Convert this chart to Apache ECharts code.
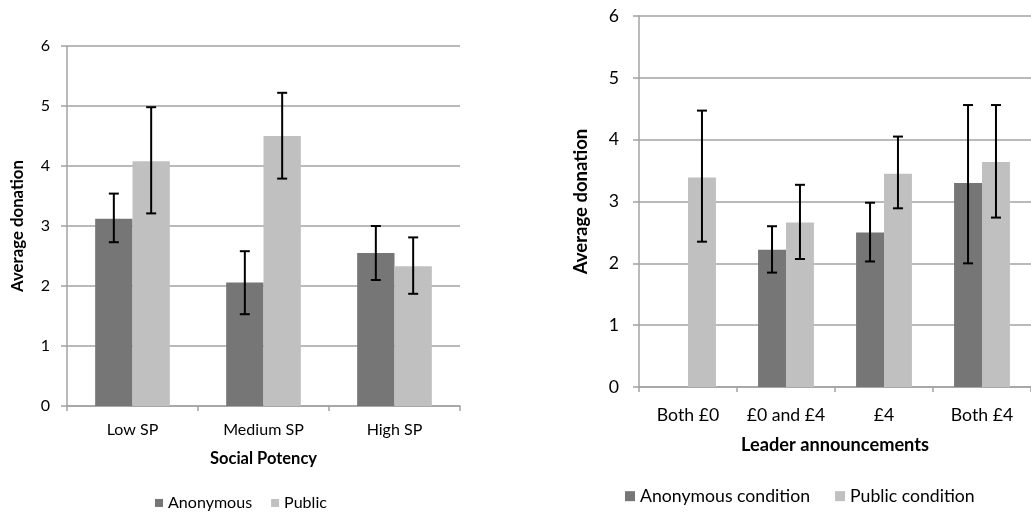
<!DOCTYPE html>
<html>
<head>
<meta charset="utf-8">
<script src="https://cdn.jsdelivr.net/npm/echarts@6/dist/echarts.min.js"></script>
<style>
html,body{margin:0;padding:0;background:#fff;}
#chart{width:1031px;height:514px;}
</style>
</head>
<body>
<div id="chart"></div>
<script>
// ---- Left chart data ----
var catsL = ['Low SP', 'Medium SP', 'High SP'];
var anonL = [3.12, 2.06, 2.55];
var anonLHi = [3.54, 2.58, 3.00];
var anonLLo = [2.73, 1.53, 2.10];
var pubL = [4.08, 4.50, 2.33];
var pubLHi = [4.98, 5.22, 2.81];
var pubLLo = [3.21, 3.79, 1.87];

// ---- Right chart data ----
var catsR = ['Both £0', '£0 and £4', '£4', 'Both £4'];
var anonR = [null, 2.22, 2.50, 3.30];
var anonRHi = [null, 2.60, 2.98, 4.56];
var anonRLo = [null, 1.85, 2.03, 2.00];
var pubR = [3.39, 2.66, 3.45, 3.64];
var pubRHi = [4.47, 3.27, 4.05, 4.56];
var pubRLo = [2.35, 2.07, 2.89, 2.74];

var yTicks = [0, 1, 2, 3, 4, 5, 6];

var FONT = 'Lato';
var GRAY = '#a3a3a3';
var C_ANON = '#767676';
var C_PUB = '#c0c0c0';
var GAP = 0.43;

// font size that makes a string as wide as in the reference
var mctx = document.createElement('canvas').getContext('2d');
function fit(text, weight, target) {
  mctx.font = weight + ' 100px ' + FONT;
  return Math.round(100 * target / mctx.measureText(text).width * 10) / 10;
}
var fsL = (fit('Medium SP', 'normal', 82) + fit('Low SP', 'normal', 50) + fit('Anonymous', 'normal', 86)) / 3;
var fsLName = fit('Social Potency', 'bold', 107);
var fsLY = fit('Average donation', 'bold', 132);
var fsR = (fit('Both £4', 'normal', 62) + fit('£0 and £4', 'normal', 78) + fit('Anonymous condition', 'normal', 172)) / 3;
var fsRName = fit('Leader announcements', 'bold', 188);
var fsRY = fsLY * fsRName / fsLName;

function errData(lo, hi) {
  var out = [];
  for (var i = 0; i < lo.length; i++) {
    if (lo[i] == null) continue;
    out.push([i, lo[i], hi[i]]);
  }
  return out;
}

function makeErr(side) {
  return function (params, api) {
    var idx = api.value(0);
    var lo = api.coord([idx, api.value(1)]);
    var hi = api.coord([idx, api.value(2)]);
    var band = api.size([1, 0])[0];
    var bw = band * (1 - GAP) / 2;
    var x = lo[0] + side * bw / 2;
    var cap = 5;
    var st = { stroke: '#000', lineWidth: 2 };
    return {
      type: 'group',
      children: [
        { type: 'line', shape: { x1: x, y1: hi[1], x2: x, y2: lo[1] }, style: st },
        { type: 'line', shape: { x1: x - cap, y1: hi[1], x2: x + cap, y2: hi[1] }, style: st },
        { type: 'line', shape: { x1: x - cap, y1: lo[1], x2: x + cap, y2: lo[1] }, style: st }
      ]
    };
  };
}

function yAxisCfg(gridIndex, nameGap, nameSize, labelSize, labelMargin) {
  return {
    type: 'value', gridIndex: gridIndex, min: 0, max: 6, interval: 1,
    name: 'Average donation', nameLocation: 'middle', nameGap: nameGap, nameRotate: 90,
    nameTextStyle: { fontFamily: FONT, fontSize: nameSize, fontWeight: 'bold', color: '#000' },
    axisLine: { show: true, lineStyle: { color: GRAY, width: 1.5 } },
    axisTick: { show: true, length: 6, lineStyle: { color: GRAY, width: 1.5 } },
    axisLabel: { fontFamily: FONT, fontSize: labelSize, color: '#000', margin: labelMargin,
      formatter: function (v) { return yTicks.indexOf(v) >= 0 ? String(v) : ''; } },
    splitLine: { show: true, lineStyle: { color: GRAY, width: 1.5 } }
  };
}

function xAxisCfg(gridIndex, cats, name, nameGap, nameSize, labelSize, labelMargin) {
  return {
    type: 'category', gridIndex: gridIndex, data: cats,
    name: name, nameLocation: 'middle', nameGap: nameGap,
    nameTextStyle: { fontFamily: FONT, fontSize: nameSize, fontWeight: 'bold', color: '#000' },
    axisLine: { show: true, lineStyle: { color: GRAY, width: 1.5 } },
    axisTick: { show: true, length: 5, lineStyle: { color: GRAY, width: 1.5 } },
    axisLabel: { fontFamily: FONT, fontSize: labelSize, color: '#000', margin: labelMargin, interval: 0 },
    splitLine: { show: false }
  };
}

var chart = echarts.init(document.getElementById('chart'), null, { renderer: 'canvas' });
chart.setOption({
  animation: false,
  backgroundColor: '#fff',
  grid: [
    { left: 67, top: 46, width: 393, height: 360 },
    { left: 639, top: 16, width: 406, height: 371 }
  ],
  xAxis: [
    xAxisCfg(0, catsL, 'Social Potency', 458 - 406 - fsLName / 2, fsLName, fsL, 24 - fsL / 2),
    xAxisCfg(1, catsR, 'Leader announcements', 445 - 387 - fsRName / 2, fsRName, fsR, 28 - fsR / 2)
  ],
  yAxis: [
    yAxisCfg(0, 67 - 18 - fsLY / 2, fsLY, fsL, 17),
    yAxisCfg(1, 639 - 581 - fsRY / 2, fsRY, fsR, 20)
  ],
  legend: [
    { data: ['Anonymous', 'Public'], left: 155, top: 503 - fsL / 2, padding: 0, itemWidth: 8, itemHeight: 8, itemGap: 19,
      icon: 'rect', textStyle: { fontFamily: FONT, fontSize: fsL, color: '#000' } },
    { data: ['Anonymous condition', 'Public condition'], left: 625, top: 496 - fsR / 2, padding: 0, itemWidth: 10, itemHeight: 10, itemGap: 25,
      icon: 'rect', textStyle: { fontFamily: FONT, fontSize: fsR, color: '#000' } }
  ],
  series: [
    { name: 'Anonymous', type: 'bar', xAxisIndex: 0, yAxisIndex: 0, data: anonL,
      itemStyle: { color: C_ANON }, barGap: '0%', barCategoryGap: '43%' },
    { name: 'Public', type: 'bar', xAxisIndex: 0, yAxisIndex: 0, data: pubL,
      itemStyle: { color: C_PUB }, barGap: '0%', barCategoryGap: '43%' },
    { name: 'errAnonL', type: 'custom', xAxisIndex: 0, yAxisIndex: 0, data: errData(anonLLo, anonLHi),
      renderItem: makeErr(-1), z: 10 },
    { name: 'errPubL', type: 'custom', xAxisIndex: 0, yAxisIndex: 0, data: errData(pubLLo, pubLHi),
      renderItem: makeErr(1), z: 10 },
    { name: 'Anonymous condition', type: 'bar', xAxisIndex: 1, yAxisIndex: 1, data: anonR.map(function (v) { return v == null ? '-' : v; }),
      itemStyle: { color: C_ANON }, barGap: '0%', barCategoryGap: '43%' },
    { name: 'Public condition', type: 'bar', xAxisIndex: 1, yAxisIndex: 1, data: pubR,
      itemStyle: { color: C_PUB }, barGap: '0%', barCategoryGap: '43%' },
    { name: 'errAnonR', type: 'custom', xAxisIndex: 1, yAxisIndex: 1, data: errData(anonRLo, anonRHi),
      renderItem: makeErr(-1), z: 10 },
    { name: 'errPubR', type: 'custom', xAxisIndex: 1, yAxisIndex: 1, data: errData(pubRLo, pubRHi),
      renderItem: makeErr(1), z: 10 }
  ]
});
</script>
</body>
</html>
